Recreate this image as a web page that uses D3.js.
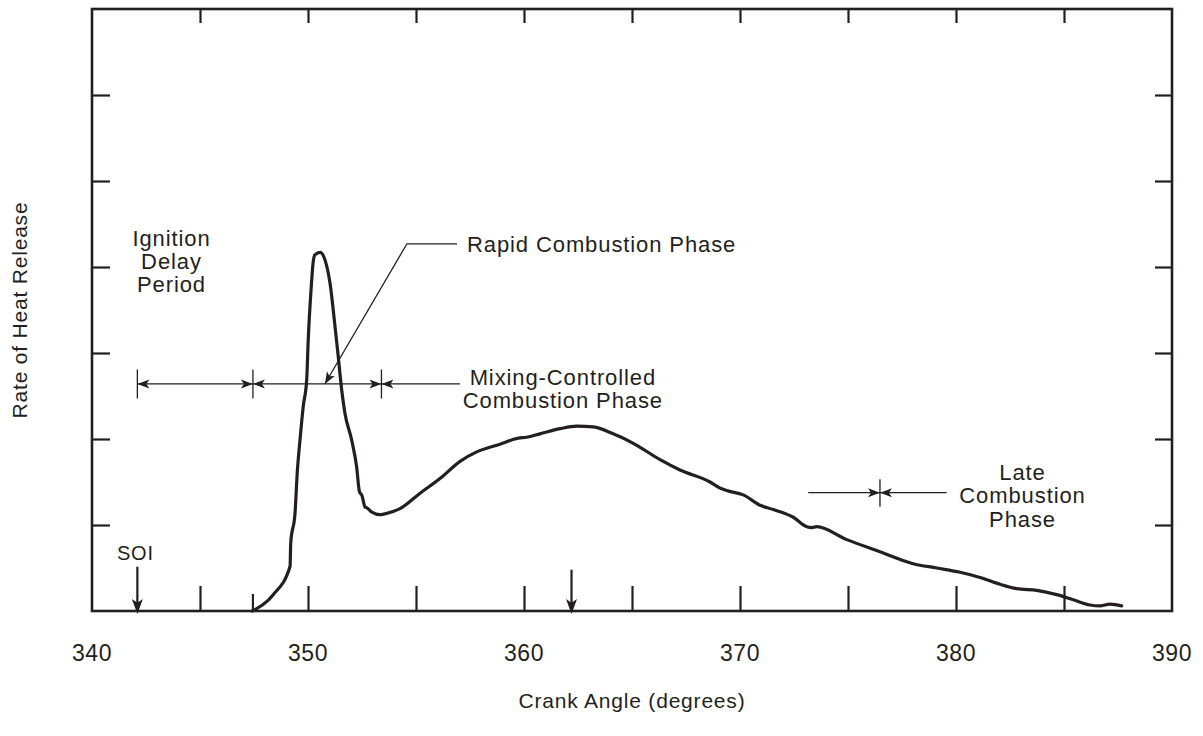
<!DOCTYPE html>
<html>
<head>
<meta charset="utf-8">
<script src="https://cdn.jsdelivr.net/npm/d3@7"></script>
<style>
  body { margin: 0; background: #fff; }
  text { font-family: "Liberation Sans", Arial, sans-serif; fill: #231f20; }
</style>
</head>
<body>
<div id="chart"></div>
<script>
// Rate of heat release vs crank angle (diesel combustion phases)

var crankAngle = [347.42, 348.39, 349.17, 349.20, 349.40, 349.50, 349.63, 349.78, 349.94, 350.01,
  350.14, 350.25, 350.32, 350.56, 350.79, 351.02, 351.25, 351.40, 351.56, 351.71,
  352.02, 352.25, 352.38, 352.50, 352.64, 352.73, 352.96, 353.33, 353.56, 354.26,
  355.19, 356.11, 357.04, 357.81, 358.89, 359.74, 360.12, 360.74, 361.67, 362.44,
  363.21, 364.13, 365.06, 366.30, 367.22, 368.61, 369.07, 369.38, 370.15, 370.93,
  371.54, 372.47, 373.09, 373.32, 373.55, 374.94, 376.48, 378.02, 379.11, 380.19,
  381.11, 382.04, 382.81, 383.74, 384.66, 385.43, 386.20, 386.67, 387.13, 387.67];
var heatRelease = [0.00, 0.19, 0.52, 0.79, 1.14, 1.60, 1.99, 2.38, 2.69, 3.15,
  3.73, 4.08, 4.14, 4.17, 4.08, 3.81, 3.31, 2.96, 2.57, 2.30,
  1.99, 1.68, 1.39, 1.34, 1.21, 1.20, 1.15, 1.12, 1.13, 1.19,
  1.37, 1.54, 1.74, 1.85, 1.94, 2.01, 2.02, 2.06, 2.12, 2.15,
  2.14, 2.06, 1.95, 1.76, 1.64, 1.50, 1.43, 1.40, 1.35, 1.23,
  1.18, 1.09, 0.98, 0.97, 0.98, 0.83, 0.69, 0.55, 0.50, 0.45,
  0.39, 0.31, 0.26, 0.24, 0.19, 0.13, 0.07, 0.06, 0.08, 0.06];

var xTickValues = [345, 350, 355, 360, 365, 370, 375, 380, 385];
var xLabelValues = [340, 350, 360, 370, 380, 390];
var yTickValues = [1, 2, 3, 4, 5, 6];

// phase boundaries (degrees)
var startOfInjection = 342.1;
var startOfCombustion = 347.45;
var endOfRapid = 353.4;
var mixingLineEnd = 357.04;
var lateStart = 376.48;
var lateLine = [373.16, 379.57];
var markerAngle = 362.2;

var width = 1203, height = 736;
var margin = {top: 9, right: 31, bottom: 125, left: 92};

var svg = d3.select("#chart").append("svg")
    .attr("width", width)
    .attr("height", height);

var x = d3.scaleLinear().domain([340, 390]).range([margin.left, width - margin.right]);
var y = d3.scaleLinear().domain([0, 7]).range([height - margin.bottom, margin.top]);

var ink = "#231f20";

// frame
svg.append("rect")
    .attr("x", x(340))
    .attr("y", y(7))
    .attr("width", x(390) - x(340))
    .attr("height", y(0) - y(7))
    .attr("fill", "none")
    .attr("stroke", ink)
    .attr("stroke-width", 2.6);

// inward ticks on all four sides
function tickAxis(axis, tx, ty, len) {
  var g = svg.append("g")
      .attr("transform", "translate(" + tx + "," + ty + ")")
      .call(axis.tickSize(len).tickFormat(""));
  g.select(".domain").remove();
  g.selectAll(".tick line").attr("stroke", ink).attr("stroke-width", 2.2);
  return g;
}
tickAxis(d3.axisBottom(x).tickValues(xTickValues), 0, y(0), -25);
tickAxis(d3.axisTop(x).tickValues(xTickValues), 0, y(7), -14);
tickAxis(d3.axisLeft(y).tickValues(yTickValues), x(340), 0, -18);
tickAxis(d3.axisRight(y).tickValues(yTickValues), x(390), 0, -17);

// tick labels
svg.append("g").selectAll("text")
    .data(xLabelValues)
    .enter()
    .append("text")
    .attr("x", function(d) { return x(d); })
    .attr("y", y(0) + 50)
    .attr("text-anchor", "middle")
    .style("font-size", "23px")
    .style("letter-spacing", "0.5px")
    .text(function(d) { return d; });

// axis titles
svg.append("text")
    .attr("x", (x(340) + x(390)) / 2)
    .attr("y", 708)
    .attr("text-anchor", "middle")
    .style("font-size", "21px")
    .style("letter-spacing", "0.8px")
    .text("Crank Angle (degrees)");

svg.append("text")
    .attr("transform", "translate(27," + (y(3.5)) + ") rotate(-90)")
    .attr("text-anchor", "middle")
    .style("font-size", "21px")
    .style("letter-spacing", "0.8px")
    .text("Rate of Heat Release");

// heat release curve
var line = d3.line()
    .x(function(d, i) { return x(crankAngle[i]); })
    .y(function(d) { return y(d); })
    .curve(d3.curveMonotoneX);

svg.append("path")
    .datum(heatRelease)
    .attr("d", line)
    .attr("fill", "none")
    .attr("stroke", ink)
    .attr("stroke-width", 3.2)
    .attr("stroke-linejoin", "round")
    .attr("stroke-linecap", "round");

// annotation helpers
var ann = svg.append("g");

function arrowHead(tx, ty, angle, len, half) {
  // tip at (tx, ty), pointing in direction angle (radians)
  var c = Math.cos(angle), s = Math.sin(angle);
  function pt(a, b) { return [tx - a * c - b * s, ty - a * s + b * c]; }
  var p = [[tx, ty], pt(len, half), pt(len * 0.75, 0), pt(len, -half)];
  ann.append("path")
      .attr("d", "M" + p.join("L") + "Z")
      .attr("fill", ink);
}

function seg(x1, y1, x2, y2, w) {
  ann.append("line")
      .attr("x1", x1).attr("y1", y1)
      .attr("x2", x2).attr("y2", y2)
      .attr("stroke", ink)
      .attr("stroke-width", w || 1.3);
}

function textBlock(lines, cx, by, anchor) {
  var t = ann.append("text")
      .attr("text-anchor", anchor || "middle")
      .style("font-size", "22px")
      .style("letter-spacing", "0.9px");
  lines.forEach(function(s, i) {
    t.append("tspan").attr("x", cx).attr("y", by + i * 23.3).text(s);
  });
}

// dimension line for ignition delay / rapid / mixing phases
var dimY = y(2.64);
[startOfInjection, startOfCombustion, endOfRapid].forEach(function(a) {
  seg(x(a), dimY - 14.5, x(a), dimY + 14.5, 1.3);
});
seg(x(startOfInjection), dimY, x(mixingLineEnd), dimY);
arrowHead(x(startOfInjection), dimY, Math.PI, 12, 4.5);
arrowHead(x(startOfCombustion), dimY, 0, 12, 4.5);
arrowHead(x(startOfCombustion), dimY, Math.PI, 12, 4.5);
arrowHead(x(endOfRapid), dimY, 0, 12, 4.5);
arrowHead(x(endOfRapid), dimY, Math.PI, 12, 4.5);

// rapid combustion leader
var elbow = [x(354.58), y(4.27)];
var tip = [x(350.78), dimY];
seg(x(356.9), elbow[1], elbow[0], elbow[1]);
seg(elbow[0], elbow[1], tip[0], tip[1]);
arrowHead(tip[0], tip[1], Math.atan2(tip[1] - elbow[1], tip[0] - elbow[0]), 12, 4.5);

// late combustion marker
var lateY = y(1.376);
seg(x(lateStart), lateY - 13.5, x(lateStart), lateY + 14);
seg(x(lateLine[0]), lateY, x(lateLine[1]), lateY);
arrowHead(x(lateStart), lateY, 0, 12, 4.5);
arrowHead(x(lateStart), lateY, Math.PI, 12, 4.5);

// start of combustion mark on the axis
seg(x(startOfCombustion), y(0), x(startOfCombustion), y(0) - 17, 2.2);

// SOI and mid arrows
[[startOfInjection, 0.515], [markerAngle, 0.48]].forEach(function(d) {
  seg(x(d[0]), y(d[1]), x(d[0]), y(0) - 6, 2.2);
  arrowHead(x(d[0]), y(0) + 3, Math.PI / 2, 15, 5.5);
});

// labels
textBlock(["Ignition", "Delay", "Period"], x(343.68), 245.7);
textBlock(["Rapid Combustion Phase"], x(357.36), 252, "start");
textBlock(["Mixing-Controlled", "Combustion Phase"], x(361.8), 384.5);
textBlock(["Late", "Combustion", "Phase"], x(383.08), 480);

ann.append("text")
    .attr("x", x(startOfInjection) - 2)
    .attr("y", 560)
    .attr("text-anchor", "middle")
    .style("font-size", "20px")
    .style("letter-spacing", "0.8px")
    .text("SOI");
</script>
</body>
</html>
